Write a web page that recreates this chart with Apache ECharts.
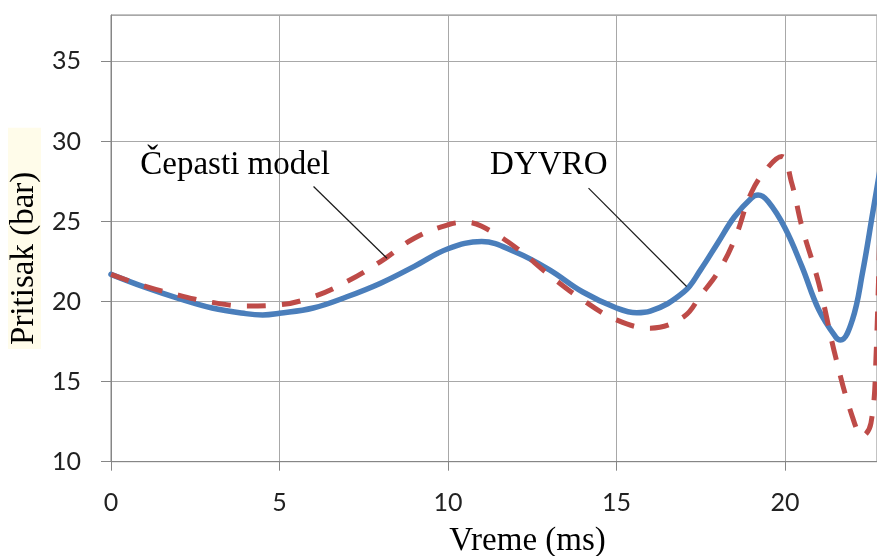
<!DOCTYPE html>
<html>
<head>
<meta charset="utf-8">
<script src="https://cdn.jsdelivr.net/npm/echarts@6/dist/echarts.min.js"></script>
<style>
  html, body { margin: 0; padding: 0; background: #ffffff; }
  #chart { width: 877px; height: 556px; }
</style>
</head>
<body>
<div id="chart"></div>
<script>
// Pressure vs. time: DYVRO simulation against the lumped ("čepasti") model
const dyvroTime = [0, 1, 2, 3, 4, 4.5, 5, 6, 7, 8, 9, 10, 11, 12, 13, 14, 15, 15.6, 16, 17, 17.5, 18, 18.5, 19, 19.2, 19.5, 20, 20.5, 21, 21.5, 21.65, 22, 22.3, 22.6, 23];
const dyvroPressure = [21.7, 20.9, 20.2, 19.6, 19.25, 19.17, 19.27, 19.6, 20.3, 21.15, 22.2, 23.3, 23.75, 23.1, 22.0, 20.6, 19.6, 19.3, 19.4, 20.6, 22.0, 23.65, 25.3, 26.46, 26.65, 26.25, 24.6, 22.2, 19.5, 17.8, 17.6, 18.86, 21.8, 25.5, 30.5];

const cepastiTime = [0, 1, 2, 3, 4, 5, 6, 7, 8, 9, 10, 10.5, 11, 12, 13, 14, 15, 16, 17, 17.5, 18, 18.5, 19, 19.5, 19.9, 20.2, 20.5, 21, 21.5, 22, 22.3, 22.55, 22.7, 22.85];
const cepastiPressure = [21.7, 20.97, 20.4, 19.95, 19.73, 19.8, 20.3, 21.25, 22.5, 23.96, 24.8, 24.95, 24.7, 23.4, 21.67, 20.1, 18.86, 18.34, 19.06, 20.4, 21.8, 23.86, 26.8, 28.4, 29.06, 27.4, 24.7, 21.15, 16.56, 12.8, 11.6, 12.4, 16.5, 28];

// Axis ranges and tick labels (the time axis runs slightly past 22.7 ms)
const xRange = [0, 22.73];
const yRange = [10, 37.9];
const xTicks = [0, 5, 10, 15, 20];
const yTicks = [10, 15, 20, 25, 30, 35];

// Callout labels: text anchor and leader line endpoints in data units
const calloutText = ['Čepasti model', 'DYVRO'];
const calloutAnchor = [[0.87, 28.5], [11.25, 28.5]];
const calloutFrom = [[6.01, 27.19], [14.17, 27.09]];
const calloutTo = [[8.19, 22.71], [17.08, 20.94]];

const zip = (xs, ys) => xs.map((x, i) => [x, ys[i]]);

const chart = echarts.init(document.getElementById('chart'), null, { renderer: 'canvas' });

const serif = "'Liberation Serif', 'Times New Roman', serif";
const sans = "Lato, 'Open Sans', sans-serif";

chart.setOption({
  backgroundColor: '#ffffff',
  animation: false,
  grid: {
    left: 111, top: 15, right: 0, height: 446.7,
    outerBoundsMode: 'none',
    containLabel: false,
    show: true, borderColor: '#868686', borderWidth: 1, backgroundColor: 'transparent'
  },
  xAxis: {
    type: 'value',
    min: xRange[0], max: xRange[1], interval: 5,
    name: 'Vreme (ms)',
    nameLocation: 'middle',
    nameGap: 63,
    nameTextStyle: { fontFamily: serif, fontSize: 33, color: '#000', padding: [0, 0, 0, 67] },
    axisLine: { show: true, lineStyle: { color: '#868686', width: 1 } },
    axisTick: { show: true, length: 9, lineStyle: { color: '#868686' } },
    splitLine: { show: true, lineStyle: { color: '#a8a8a8', width: 1 } },
    axisLabel: {
      margin: 29, fontFamily: sans, fontSize: 25, color: '#222222',
      showMaxLabel: false,
      formatter: v => xTicks.includes(v) ? String(v) : ''
    }
  },
  yAxis: {
    type: 'value',
    min: yRange[0], max: yRange[1], interval: 5,
    name: 'Pritisak (bar)',
    nameLocation: 'middle',
    nameGap: 70,
    nameTextStyle: { fontFamily: serif, fontSize: 33, color: '#000', backgroundColor: '#fffcea', padding: [0, 44, 0, 4] },
    axisLine: { show: true, lineStyle: { color: '#868686', width: 1 } },
    axisTick: { show: true, length: 10, lineStyle: { color: '#868686' } },
    splitLine: { show: true, lineStyle: { color: '#a8a8a8', width: 1 } },
    axisLabel: {
      margin: 30, fontFamily: sans, fontSize: 25, color: '#222222',
      showMaxLabel: false,
      formatter: v => yTicks.includes(v) ? String(v) : ''
    }
  },
  series: [
    {
      name: 'DYVRO',
      type: 'line',
      data: zip(dyvroTime, dyvroPressure),
      smooth: 0.4,
      showSymbol: false,
      clip: true,
      lineStyle: { color: '#4A7EBB', width: 5.5, cap: 'round', join: 'round' },
      z: 3
    },
    {
      name: 'Čepasti model',
      type: 'line',
      data: zip(cepastiTime, cepastiPressure),
      smooth: 0.4,
      showSymbol: false,
      clip: true,
      lineStyle: { color: '#BE4B48', width: 5, type: [19, 16], cap: 'butt', join: 'round' },
      z: 4
    }
  ]
});

// Callouts placed through the chart's own coordinate conversion
const graphics = [];
calloutText.forEach((t, i) => {
  const a = chart.convertToPixel({ gridIndex: 0 }, calloutAnchor[i]);
  const p = chart.convertToPixel({ gridIndex: 0 }, calloutFrom[i]);
  const q = chart.convertToPixel({ gridIndex: 0 }, calloutTo[i]);
  graphics.push({
    type: 'line',
    shape: { x1: p[0], y1: p[1], x2: q[0], y2: q[1] },
    style: { stroke: '#1a1a1a', lineWidth: 1.2 },
    z: 10
  });
  graphics.push({
    type: 'text',
    x: a[0], y: a[1],
    style: { text: t, font: '33px ' + serif, fill: '#000', textAlign: 'left', textVerticalAlign: 'middle' },
    z: 10
  });
});
chart.setOption({ graphic: graphics });
</script>
</body>
</html>
